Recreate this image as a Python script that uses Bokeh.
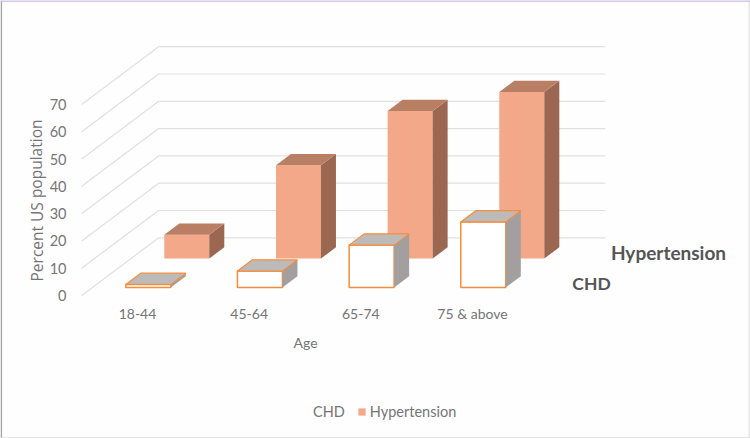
from bokeh.plotting import figure
from bokeh.models import Range1d, FixedTicker, Label, Legend, LegendItem, Span
from bokeh.embed import file_html
from bokeh.resources import INLINE

categories = ["18-44", "45-64", "65-74", "75 & above"]
chd = [1.1, 6.0, 15.5, 24.0]
hypertension = [8.7, 34.2, 54.1, 61.0]
y_ticks = [0, 10, 20, 30, 40, 50, 60, 70]

PX_X = 111.67
PX_Y = 2.73
DEPTH_X = 77 / PX_X
DEPTH_Y = 57.7 / PX_Y
HALF = 22.5 / PX_X
BAR_DEPTH = 0.195
FONT = "Lato"
GREY = "#757575"
OX, OY = 0, 0
W, H = 750, 438


def sx(px):
    return (px - 137) / PX_X


def sy(py):
    return (295 - py) / PX_Y


def proj(x, v, d):
    return x + d * DEPTH_X, v + d * DEPTH_Y


def faces(values, d0):
    front, top, side = [], [], []
    d1 = d0 + BAR_DEPTH
    for i, v in enumerate(values):
        xl, xr = i - HALF, i + HALF
        front.append(([proj(xl, 0, d0)[0], proj(xr, 0, d0)[0]], [proj(xl, 0, d0)[1], proj(xl, v, d0)[1]]))
        pts = [proj(xl, v, d0), proj(xr, v, d0), proj(xr, v, d1), proj(xl, v, d1)]
        top.append(([p[0] for p in pts], [p[1] for p in pts]))
        pts = [proj(xr, 0, d0), proj(xr, v, d0), proj(xr, v, d1), proj(xr, 0, d1)]
        side.append(([p[0] for p in pts], [p[1] for p in pts]))
    return front, top, side


p = figure(width=W, height=H, output_backend="svg", toolbar_location=None,
           x_range=Range1d(sx(OX), sx(OX + W)),
           y_range=Range1d(sy(OY + H), sy(OY)),
           min_border_left=0, min_border_right=0, min_border_top=0, min_border_bottom=0,
           background_fill_color="#fefefe", border_fill_color="#fefefe",
           outline_line_color=None)
p.grid.visible = False

x_lo, x_hi = -0.5, 3.5
p.multi_line([[proj(x_lo, t, 0)[0], proj(x_lo, t, 1)[0], proj(x_hi, t, 1)[0]] for t in y_ticks],
             [[proj(x_lo, t, 0)[1], proj(x_lo, t, 1)[1], proj(x_hi, t, 1)[1]] for t in y_ticks],
             line_color="#e2dfdf", line_width=1.2)


def draw(values, d0, front_fill, top_fill, side_fill, line):
    front, top, side = faces(values, d0)
    r = p.quad(left=[f[0][0] for f in front], right=[f[0][1] for f in front],
               bottom=[f[1][0] for f in front], top=[f[1][1] for f in front],
               fill_color=front_fill, line_color=line, line_width=1.5)
    p.patches([s[0] for s in side], [s[1] for s in side], fill_color=side_fill, line_color=None)
    p.patches([t[0] for t in top], [t[1] for t in top], fill_color=top_fill,
              line_color=line, line_width=1.2)
    return r


r_hyp = draw(hypertension, 0.5 + 0.14, "#f2a889", "#b97f65", "#9b6751", None)
draw(chd, 0.14, "#ffffff", "#bdbbba", "#a39f9f", "#f68d3d")

r_chd = p.quad(left=[], right=[], top=[], bottom=[], fill_color="#fefefe", line_color=None)
legend = Legend(items=[LegendItem(label="CHD", renderers=[r_chd]),
                       LegendItem(label="Hypertension", renderers=[r_hyp])],
                orientation="horizontal", location=(300, 18), background_fill_alpha=0,
                border_line_color=None, glyph_width=9, glyph_height=9, spacing=12,
                label_standoff=4, padding=0, margin=0,
                label_text_font=FONT, label_text_font_size="14.5px", label_text_color=GREY)
p.add_layout(legend)

p.yaxis.fixed_location = sx(78)
p.yaxis.ticker = FixedTicker(ticks=y_ticks)
p.yaxis.axis_line_color = None
p.yaxis.major_tick_line_color = None
p.yaxis.minor_tick_line_color = None
p.yaxis.major_label_standoff = 6
p.yaxis.major_label_text_font = FONT
p.yaxis.major_label_text_font_size = "14.5px"
p.yaxis.major_label_text_color = GREY

p.xaxis.fixed_location = sy(298)
p.xaxis.ticker = FixedTicker(ticks=list(range(len(categories))))
p.xaxis.major_label_overrides = {i: c for i, c in enumerate(categories)}
p.xaxis.axis_line_color = None
p.xaxis.major_tick_line_color = None
p.xaxis.minor_tick_line_color = None
p.xaxis.major_label_standoff = 0
p.xaxis.major_label_text_font = FONT
p.xaxis.major_label_text_font_size = "14px"
p.xaxis.major_label_text_color = GREY

p.add_layout(Label(x=sx(36), y=sy(200), text="Percent US population", angle=1.5708,
                   text_align="center", text_baseline="middle", text_font="Open Sans",
                   text_font_size="15.5px", text_color=GREY))
p.add_layout(Label(x=sx(305), y=sy(342), text="Age", text_align="center",
                   text_baseline="middle", text_font=FONT, text_font_size="14px", text_color=GREY))
p.add_layout(Label(x=sx(668), y=sy(252), text="Hypertension", text_align="center",
                   text_baseline="middle", text_font=FONT, text_font_size="19px",
                   text_font_style="bold", text_color="#555555"))
p.add_layout(Label(x=sx(591), y=sy(283), text="CHD", text_align="center",
                   text_baseline="middle", text_font=FONT, text_font_size="17.5px",
                   text_font_style="bold", text_color="#555555"))

# faint frame round the picture
p.add_layout(Span(location=sx(0.8), dimension="height", line_color="#a9a4a6", line_width=1.6))
p.add_layout(Span(location=sx(748.8), dimension="height", line_color="#e4e4e4", line_width=1.5))
p.add_layout(Span(location=sy(0.5), dimension="width", line_color="#c4b8dc", line_width=1.5))
p.add_layout(Span(location=sy(437.4), dimension="width", line_color="#dddddd", line_width=1.2))

open("out.html", "w").write(file_html(p, INLINE))
